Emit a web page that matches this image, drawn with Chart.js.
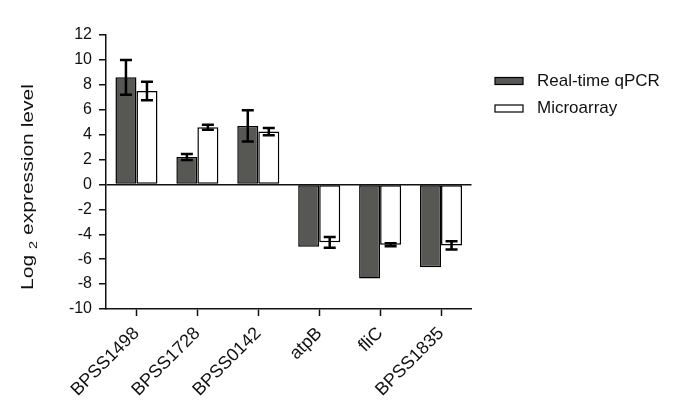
<!DOCTYPE html>
<html><head><meta charset="utf-8">
<style>html,body{margin:0;padding:0;background:#fff;}#wrap{width:685px;height:412px;}</style>
<script src="https://cdn.jsdelivr.net/npm/chart.js@4"></script>
</head><body><div id="wrap"><canvas id="c" width="685" height="412"></canvas></div>
<script>
const categories = ['BPSS1498', 'BPSS1728', 'BPSS0142', 'atpB', 'fliC', 'BPSS1835'];
const seriesNames = ['Real-time qPCR', 'Microarray'];
const qpcr = [8.6, 2.2, 4.7, -5.0, -7.55, -6.65];
const qpcrErr = [1.4, 0.24, 1.25, 0, 0, 0];
const micro = [7.5, 4.6, 4.25, -4.65, -4.85, -4.9];
const microErr = [0.74, 0.2, 0.29, 0.43, 0.12, 0.33];
const yMin = -10, yMax = 12, yStep = 2;
const yTitleParts = ['Log ', '2', ' expression level'];

const FONT = '"Liberation Sans", Arial, sans-serif';
const DARK = '#575753';
const errs = [qpcrErr, microErr];

const errorBars = {
  id: 'errorBars',
  afterDatasetsDraw(chart) {
    const ctx = chart.ctx, ys = chart.scales.y;
    ctx.save();
    ctx.strokeStyle = '#000';
    ctx.lineWidth = 2.5;
    chart.data.datasets.forEach((ds, i) => {
      const meta = chart.getDatasetMeta(i);
      meta.data.forEach((el, j) => {
        const e = errs[i][j];
        if (!e) return;
        const v = ds.data[j];
        const y1 = ys.getPixelForValue(v + e), y2 = ys.getPixelForValue(v - e);
        const x = el.x, hw = 6;
        ctx.beginPath();
        ctx.moveTo(x, y1); ctx.lineTo(x, y2);
        ctx.moveTo(x - hw, y1); ctx.lineTo(x + hw, y1);
        ctx.moveTo(x - hw, y2); ctx.lineTo(x + hw, y2);
        ctx.stroke();
      });
    });
    ctx.restore();
  }
};

const customText = {
  id: 'customText',
  afterDraw(chart) {
    const ctx = chart.ctx;
    ctx.save();
    ctx.fillStyle = '#111';
    ctx.translate(33, 187);
    ctx.rotate(-Math.PI / 2);
    const mainF = '16px ' + FONT, subF = '11px ' + FONT;
    ctx.font = mainF; const w1 = ctx.measureText(yTitleParts[0]).width;
    ctx.font = subF; const w2 = ctx.measureText(yTitleParts[1]).width;
    ctx.font = mainF; const w3 = ctx.measureText(yTitleParts[2]).width;
    const total = w1 + w2 + w3;
    const k = 206 / total;
    ctx.scale(k, 1);
    let x = -total / 2;
    ctx.textBaseline = 'alphabetic';
    ctx.font = mainF; ctx.fillText(yTitleParts[0], x, 0); x += w1;
    ctx.font = subF; ctx.fillText(yTitleParts[1], x, 4); x += w2;
    ctx.font = mainF; ctx.fillText(yTitleParts[2], x, 0);
    ctx.restore();
    ctx.save();
    ctx.font = '17px ' + FONT;
    ctx.textBaseline = 'middle';
    chart.data.datasets.forEach((ds, i) => {
      const cy = 81 + i * 27.5;
      ctx.fillStyle = ds.backgroundColor;
      ctx.fillRect(495, cy - 3.5, 28, 7);
      ctx.strokeStyle = '#000'; ctx.lineWidth = 1.2;
      ctx.strokeRect(495, cy - 3.5, 28, 7);
      ctx.fillStyle = '#111';
      ctx.fillText(ds.label, 537, cy);
    });
    ctx.restore();
  }
};

new Chart(document.getElementById('c'), {
  type: 'bar',
  data: {
    labels: categories,
    datasets: [
      { label: seriesNames[0], data: qpcr, backgroundColor: DARK, borderColor: '#000', borderWidth: 1.5, borderSkipped: false, categoryPercentage: 0.69, barPercentage: 1.0 },
      { label: seriesNames[1], data: micro, backgroundColor: '#ffffff', borderColor: '#000', borderWidth: 1.5, borderSkipped: false, categoryPercentage: 0.69, barPercentage: 1.0 }
    ]
  },
  options: {
    responsive: false,
    devicePixelRatio: 1,
    animation: false,
    layout: { padding: { left: 0, right: 213.5, top: 35, bottom: 0 } },
    plugins: { legend: { display: false }, tooltip: { enabled: false }, title: { display: false } },
    scales: {
      x: {
        offset: true,
        afterFit(s) { s.height = 103; },
        grid: { offset: false, drawOnChartArea: false, drawTicks: true, tickLength: 7, tickColor: '#111', tickWidth: 1.5 },
        border: { display: true, color: '#111', width: 1.5 },
        ticks: { color: '#111', font: { family: FONT, size: 18 }, minRotation: 45, maxRotation: 45, padding: 7, autoSkip: false }
      },
      y: {
        min: yMin, max: yMax,
        afterFit(s) { s.width = 106; },
        grid: {
          drawOnChartArea: true,
          color: (c) => (c.tick && c.tick.value === 0) ? '#111' : 'rgba(0,0,0,0)',
          lineWidth: 1.5,
          drawTicks: true, tickLength: 7, tickColor: '#111', tickWidth: 1.5
        },
        border: { display: true, color: '#111', width: 1.5 },
        ticks: { stepSize: yStep, color: '#111', font: { family: FONT, size: 16 }, padding: 7 }
      }
    }
  },
  plugins: [errorBars, customText]
});
</script>
</body></html>
